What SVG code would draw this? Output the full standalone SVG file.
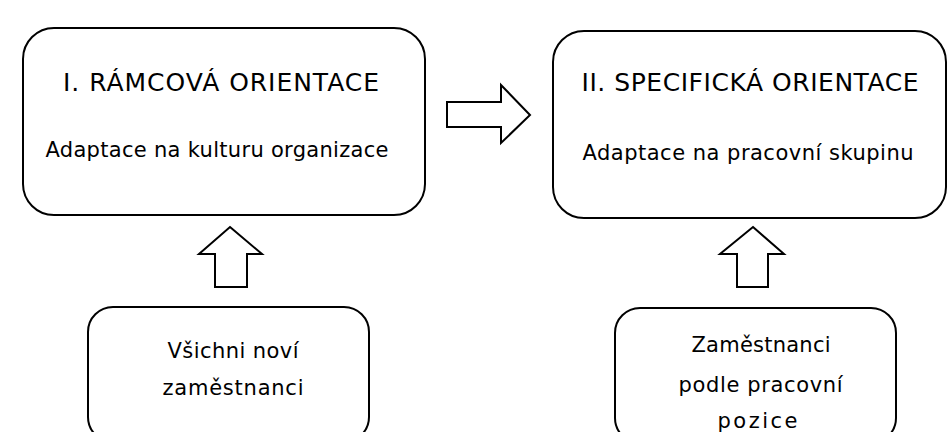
<svg xmlns="http://www.w3.org/2000/svg" width="947" height="432" viewBox="0 0 947 432">
  <style>
    .box { fill: #ffffff; stroke: #000000; stroke-width: 2; }
    .arrow { fill: #ffffff; stroke: #000000; stroke-width: 2; stroke-linejoin: miter; }
    .title { font-family: "DejaVu Sans", "Liberation Sans", sans-serif; font-size: 25px; fill: #000000; text-anchor: middle; }
    .label { font-family: "DejaVu Sans", "Liberation Sans", sans-serif; font-size: 21px; fill: #000000; text-anchor: middle; }
  </style>
  <rect width="947" height="432" fill="#ffffff"/>

  <!-- block arrows linking the stages -->
  <g id="connectors">
    <polygon class="arrow" points="447,102 501,102 501,85 530,115 501,143 501,127 447,127"/>
    <polygon class="arrow" points="230,227 262,254 247,254 247,287 215,287 215,254 199,254"/>
    <polygon class="arrow" points="753,227 784,254 768,254 768,287 737,287 737,254 720,254"/>
  </g>

  <g id="ramcova">
    <rect class="box" x="23" y="28" width="402" height="187" rx="31" ry="31"/>
    <text class="title" x="221" y="91" textLength="316" lengthAdjust="spacing">I. RÁMCOVÁ ORIENTACE</text>
    <text class="label" x="217" y="157" textLength="343" lengthAdjust="spacing">Adaptace na kulturu organizace</text>
  </g>

  <g id="specificka">
    <rect class="box" x="553" y="31" width="393" height="187" rx="31" ry="31"/>
    <text class="title" x="750" y="91" textLength="337" lengthAdjust="spacing">II. SPECIFICKÁ ORIENTACE</text>
    <text class="label" x="748" y="160" textLength="331" lengthAdjust="spacing">Adaptace na pracovní skupinu</text>
  </g>

  <g id="vsichni">
    <rect class="box" x="88" y="307" width="281" height="135" rx="25" ry="25"/>
    <text class="label" x="233" y="358" textLength="131" lengthAdjust="spacing">Všichni noví</text>
    <text class="label" x="233" y="395" textLength="141" lengthAdjust="spacing">zaměstnanci</text>
  </g>

  <g id="podle-pozice">
    <rect class="box" x="615" y="308" width="281" height="135" rx="25" ry="25"/>
    <text class="label" x="761" y="352" textLength="139" lengthAdjust="spacing">Zaměstnanci</text>
    <text class="label" x="760.5" y="392" textLength="164" lengthAdjust="spacing">podle pracovní</text>
    <text class="label" x="757.5" y="428" textLength="80" lengthAdjust="spacing">pozice</text>
  </g>
</svg>
